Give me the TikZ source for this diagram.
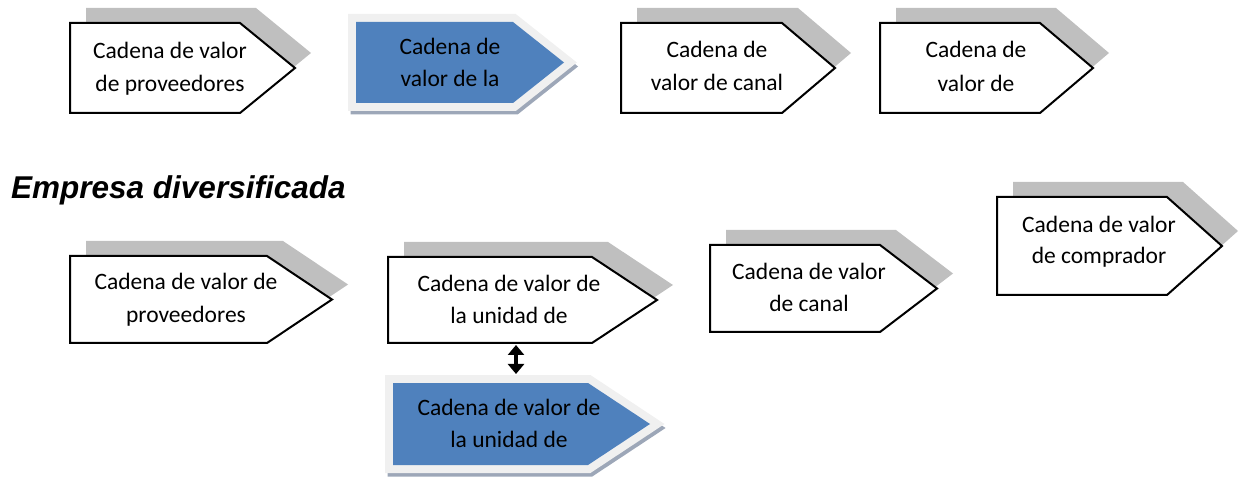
\documentclass[tikz,border=0pt]{standalone}
\usepackage{fontspec}
\setmainfont{Carlito}
\newfontfamily\titlefont{Liberation Sans}
\usetikzlibrary{arrows.meta}
\definecolor{shgray}{HTML}{BFBFBF}
\definecolor{accblue}{HTML}{4F81BD}
\definecolor{framegray}{HTML}{F0F0F0}
\definecolor{blshadow}{HTML}{9DA7B8}
\tikzset{
  wbox/.style={draw=black, fill=white, line width=2pt, line join=miter},
  lbl/.style={anchor=base, inner sep=0pt, font=\fontsize{23.5}{28}\selectfont},
  dblarrow/.style={line width=4pt, {Triangle[width=16pt,length=10pt]}-{Triangle[width=16pt,length=10pt]}}
}
% #1 name, #2 left, #3 top, #4 bottom, #5 point start, #6 tip
\newcommand{\wchev}[6]{%
  \fill[shgray] ({#2+16},{#3-15}) -- ({#5+16},{#3-15}) -- ({#6+16},{(#3+#4)/2-15}) -- ({#5+16},{#4-15}) -- ({#2+16},{#4-15}) -- cycle;
  \draw[wbox] (#2,#3) -- (#5,#3) -- (#6,{(#3+#4)/2}) -- (#5,#4) -- (#2,#4) -- cycle;
  \coordinate (#1-n) at ({(#2+#5)/2},#3);
  \coordinate (#1-s) at ({(#2+#5)/2},#4);
}
\newcommand{\bchev}[6]{%
  \filldraw[blshadow, line width=15pt, line join=miter] ({#2+2},{#3+4}) -- ({#5+2},{#3+4}) -- ({#6+2},{(#3+#4)/2+4}) -- ({#5+2},{#4+4}) -- ({#2+2},{#4+4}) -- cycle;
  \filldraw[framegray, line width=16pt, line join=miter] (#2,#3) -- (#5,#3) -- (#6,{(#3+#4)/2}) -- (#5,#4) -- (#2,#4) -- cycle;
  \fill[accblue] (#2,#3) -- (#5,#3) -- (#6,{(#3+#4)/2}) -- (#5,#4) -- (#2,#4) -- cycle;
  \coordinate (#1-n) at ({(#2+#5)/2},{#3-8});
  \coordinate (#1-s) at ({(#2+#5)/2},{#4+8});
}
\begin{document}
\begin{tikzpicture}[x=1pt,y=-1pt]
\useasboundingbox (0,0) rectangle (1240,478);
% top row
\wchev{b1}{70}{23}{113}{240}{295}
\node[lbl] (t1a) at (170,59) {Cadena de valor};
\node[lbl] (t1b) at (170,92) {de proveedores};

\bchev{b2}{356}{22}{103}{513}{564}
\node[lbl] (t2a) at (450,55) {Cadena de};
\node[lbl] (t2b) at (450,87) {valor de la};

\wchev{b3}{621}{23}{113}{782}{835}
\node[lbl] (t3a) at (717,58) {Cadena de};
\node[lbl] (t3b) at (717,91) {valor de canal};

\wchev{b4}{880}{23}{113}{1040}{1093}
\node[lbl] (t4a) at (976,58) {Cadena de};
\node[lbl] (t4b) at (976,92) {valor de};

% title
\node[anchor=base west, inner sep=0pt, font=\titlefont\fontsize{31.5}{36}\selectfont\bfseries\itshape] (title) at (11,199) {Empresa diversificada};

% bottom row
\wchev{b5}{70}{256}{343}{267}{332}
\node[lbl] (t5a) at (186,290) {Cadena de valor de};
\node[lbl] (t5b) at (186,323) {proveedores};

\wchev{b6}{388}{257}{343}{592}{657}
\node[lbl] (t6a) at (509,292) {Cadena de valor de};
\node[lbl] (t6b) at (509,324) {la unidad de};

\wchev{b7}{710}{245}{332}{880}{937}
\node[lbl] (t7a) at (809,280) {Cadena de valor};
\node[lbl] (t7b) at (809,312) {de canal};

\wchev{b8}{997}{197}{295}{1167}{1222}
\node[lbl] (t8a) at (1099,233) {Cadena de valor};
\node[lbl] (t8b) at (1099,264) {de comprador};

\bchev{b9}{393}{383}{465}{588}{650}
\node[lbl] (t9a) at (509,415) {Cadena de valor de};
\node[lbl] (t9b) at (509,447) {la unidad de};

\coordinate (a1) at (516,345);
\coordinate (a2) at (516,374);
\draw[dblarrow] (a1) -- (a2);
\end{tikzpicture}
\end{document}
